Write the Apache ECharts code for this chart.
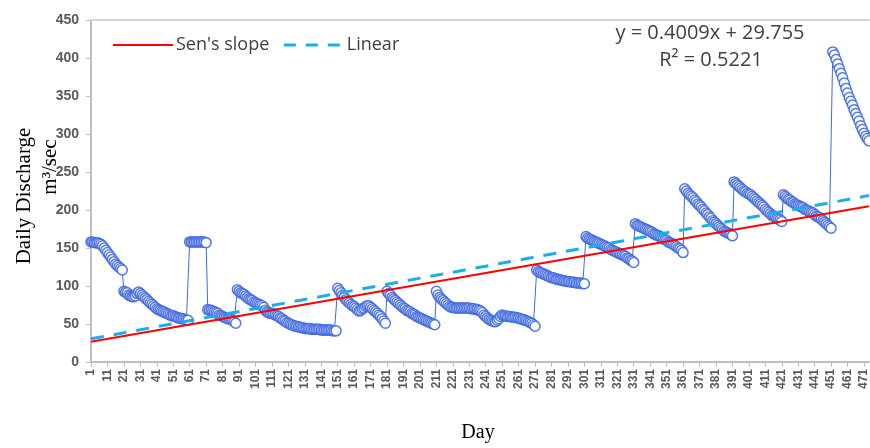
<!DOCTYPE html>
<html>
<head>
<meta charset="utf-8">
<script src="https://cdn.jsdelivr.net/npm/echarts@6/dist/echarts.min.js"></script>
<style>
html,body{margin:0;padding:0;background:#fff;}
#chart{width:870px;height:448px;}
</style>
</head>
<body>
<div id="chart"></div>
<script>
// daily discharge (m3/sec), day 1..474
var discharge = [
 158,158,157,157,157,156,155,153,150,147,144,141,138,135,132,129,127,125,123,121,            // 1-20
 93,92,91,88,87,86,86,87,90,92,90,88,86,84,82,80,78,76,74,72,
 70,69,68,67,66,65,64,63,62,61,61,60,59,58,58,57,57,56,55,55,                                // 21-60
 158,158,158,158,158,158,158,158,158,158,157,                                                // 61-71
 69,68,68,67,66,65,64,62,61,60,59,58,57,57,56,55,53,51,                                      // 72-89
 95,93,91,90,89,87,85,83,82,81,79,78,77,76,75,74,72,68,66,65,
 64,64,63,62,61,60,58,57,55,54,52,51,50,49,48,47,47,46,46,45,
 45,44,44,44,44,43,43,43,43,43,43,42,42,42,42,42,42,42,41,41,41,                             // 90-150
 97,94,91,88,85,82,80,78,76,74,73,71,69,67,68,70,71,73,74,74,72,70,68,66,64,62,60,57,54,51,  // 151-180
 93,90,88,85,83,81,79,77,75,73,71,70,68,67,66,64,63,62,60,59,58,57,56,55,54,53,52,51,50,49,  // 181-210
 93,88,85,83,81,79,77,75,73,72,72,71,71,71,71,71,71,71,71,71,
 71,70,70,70,69,69,68,67,65,62,60,58,56,55,54,53,53,55,57,60,
 62,61,61,60,60,60,59,59,59,58,58,57,56,56,55,54,53,52,51,49,47,                             // 211-271
 121,119,118,117,116,115,114,113,112,111,111,110,109,109,108,108,107,107,106,106,106,105,105,105,104,104,104,104,103,103, // 272-301
 165,163,162,161,160,159,158,157,156,155,154,153,152,151,150,148,147,146,145,144,143,142,141,140,139,137,136,134,133,131, // 302-331
 182,180,179,178,177,176,175,174,173,172,171,169,168,167,166,165,164,162,161,160,158,157,156,155,153,152,150,149,147,144, // 332-361
 228,225,222,220,218,216,213,211,208,206,204,201,199,196,194,191,189,186,184,182,180,178,176,174,172,171,170,169,168,166, // 362-391
 237,235,233,231,229,227,225,224,222,221,220,218,216,214,212,210,208,206,204,201,199,197,195,193,192,191,189,188,187,185, // 392-421
 220,218,216,214,213,211,210,208,207,206,205,204,203,201,200,199,198,197,196,194,192,191,190,188,186,184,182,180,178,176, // 422-451
 408,404,398,392,386,380,374,367,360,354,348,343,338,332,327,322,317,311,306,301,297,294,291  // 452-474
];
var days = [];
for (var i = 1; i <= discharge.length; i++) days.push(String(i));

// trend lines, end points as drawn
var senDays = ['1', '474'];
var senValues = [26.5, 205];
var linDays = ['1', '474'];
var linValues = [30.5, 219];

var yTicks = {min: 0, max: 450, step: 50};
var eqText = 'y = 0.4009x + 29.755';
var r2Text = 'R\u00b2 = 0.5221';

var chart = echarts.init(document.getElementById('chart'));
var option = {
  animation: false,
  backgroundColor: '#fff',
  grid: {left: 91, right: 0, top: 20, bottom: 86},
  legend: {
    data: [
      {name: "Sen's slope"},
      {name: 'Linear', lineStyle: {type: [12, 10], width: 3, dashOffset: 0}}
    ],
    left: 112, top: 36, padding: 0,
    itemWidth: 60, itemHeight: 16, itemGap: 13,
    itemStyle: {opacity: 0},
    textStyle: {fontFamily: 'Open Sans', fontSize: 18, color: '#404040', padding: [0, 0, 0, -2]}
  },
  xAxis: [{
    type: 'category',
    data: days,
    boundaryGap: false,
    axisLine: {lineStyle: {color: '#bfbfbf', width: 2}},
    axisTick: {interval: 9, length: 5, lineStyle: {color: '#bfbfbf', width: 1}},
    axisLabel: {interval: 9, rotate: 90, margin: 7, fontFamily: 'Liberation Sans', fontSize: 12,
      fontWeight: 'bold', color: '#595959'},
    splitLine: {show: false}
  }, {
    type: 'category',
    data: days,
    position: 'top',
    boundaryGap: false,
    axisLine: {lineStyle: {color: '#d4d4d4', width: 2}},
    axisTick: {show: false},
    axisLabel: {show: false}
  }],
  yAxis: {
    type: 'value',
    min: yTicks.min, max: yTicks.max, interval: yTicks.step,
    axisLine: {show: true, lineStyle: {color: '#bfbfbf', width: 2}},
    axisTick: {show: true, length: 5, lineStyle: {color: '#bfbfbf'}},
    axisLabel: {margin: 12, fontFamily: 'Liberation Sans', fontSize: 14, fontWeight: 'bold', color: '#595959'},
    splitLine: {show: false}
  },
  series: [{
    name: 'Discharge',
    type: 'line',
    data: discharge,
    symbol: 'circle',
    symbolSize: 10,
    showAllSymbol: true,
    lineStyle: {color: '#4169e1', width: 1},
    itemStyle: {color: '#ffffff', borderColor: '#4169e1', borderWidth: 1.5, opacity: 0.9},
    z: 2
  }, {
    name: "Sen's slope",
    type: 'line',
    data: senDays.map(function (d, i) { return [d, senValues[i]]; }),
    symbol: 'none',
    lineStyle: {color: '#ff0000', width: 2},
    itemStyle: {color: '#ff0000'},
    z: 4
  }, {
    name: 'Linear',
    type: 'line',
    data: linDays.map(function (d, i) { return [d, linValues[i]]; }),
    symbol: 'none',
    lineStyle: {color: '#1aafec', width: 3, type: [13, 10]},
    itemStyle: {color: '#1aafec'},
    z: 5
  }],
  graphic: [
    {type: 'text', x: 710, y: 33, style: {text: eqText, font: '20px "Open Sans"', fill: '#404040', align: 'center', verticalAlign: 'middle'}},
    {type: 'text', x: 711, y: 60, style: {text: r2Text, font: '20px "Open Sans"', fill: '#404040', align: 'center', verticalAlign: 'middle'}},
    {type: 'text', x: 24, y: 196, rotation: Math.PI / 2, style: {text: 'Daily Discharge', font: '21px "Liberation Serif"', fill: '#000', align: 'center', verticalAlign: 'middle'}},
    {type: 'text', x: 50, y: 167, rotation: Math.PI / 2, style: {text: 'm\u00b3/sec', font: '21px "Liberation Serif"', fill: '#000', align: 'center', verticalAlign: 'middle'}},
    {type: 'text', x: 478, y: 433, style: {text: 'Day', font: '20px "Liberation Serif"', fill: '#000', align: 'center', verticalAlign: 'middle'}}
  ]
};
chart.setOption(option);
</script>
</body>
</html>
